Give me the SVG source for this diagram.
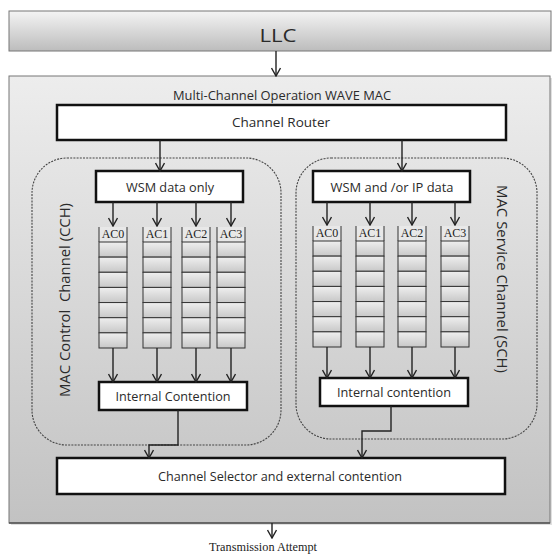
<svg xmlns="http://www.w3.org/2000/svg" width="552" height="556" viewBox="0 0 552 556">
<style>
.sans{font-family:"Open Sans","Liberation Sans",sans-serif;fill:#2a2a2a}
.serif{font-family:"Liberation Serif","Times New Roman",serif;fill:#222}
.wbox{fill:#fff;stroke:#111;stroke-width:2.5}
.dash{fill:none;stroke:#444;stroke-width:1.1;stroke-dasharray:2 1.2}
.conn{fill:none;stroke:#222;stroke-width:1.4;marker-end:url(#arr)}
.cell{fill:url(#cellg);stroke:#333;stroke-width:1}
.side{stroke:#333;stroke-width:1}
</style>
<defs>
<linearGradient id="llcg" x1="0" y1="0" x2="0" y2="1"><stop offset="0" stop-color="#f4f4f4"/><stop offset="1" stop-color="#bcbcbc"/></linearGradient>
<linearGradient id="outg" x1="0" y1="0" x2="0" y2="1"><stop offset="0" stop-color="#ededed"/><stop offset="1" stop-color="#c2c2c2"/></linearGradient>
<linearGradient id="cellg" x1="0" y1="0" x2="0" y2="1"><stop offset="0" stop-color="#efefef"/><stop offset="1" stop-color="#c8c8c8"/></linearGradient>
<marker id="arr" viewBox="-9 -5 10 10" refX="0" refY="0" markerWidth="10" markerHeight="10" markerUnits="userSpaceOnUse" orient="auto">
<path d="M-8,-4.5 L0,0 L-8,4.5" fill="none" stroke="#222" stroke-width="1.4"/>
</marker>
<g id="col">
<rect x="0" y="0" width="28" height="15" fill="#efefef" fill-opacity="0.6"/>
<line class="side" x1="0" y1="0" x2="0" y2="15"/>
<line class="side" x1="28" y1="0" x2="28" y2="15"/>
<rect class="cell" x="0" y="15" width="28" height="15.14"/>
<rect class="cell" x="0" y="30.14" width="28" height="15.14"/>
<rect class="cell" x="0" y="45.28" width="28" height="15.14"/>
<rect class="cell" x="0" y="60.42" width="28" height="15.14"/>
<rect class="cell" x="0" y="75.56" width="28" height="15.14"/>
<rect class="cell" x="0" y="90.7" width="28" height="15.14"/>
<rect class="cell" x="0" y="105.84" width="28" height="15.16"/>
</g>
</defs>

<g id="llc">
<rect x="9" y="11" width="542" height="40" fill="url(#llcg)" stroke="#777" stroke-width="1"/>
<text class="sans" x="278" y="41.5" font-size="19" text-anchor="middle" textLength="37" lengthAdjust="spacingAndGlyphs">LLC</text>
</g>

<g id="wave-mac">
<rect x="11" y="78" width="541" height="447" fill="#000" fill-opacity="0.12"/>
<rect x="9" y="76" width="541" height="447" fill="url(#outg)" stroke="#777" stroke-width="1"/>
<line x1="9" y1="523" x2="550" y2="523" stroke="#555" stroke-width="1.5"/>
<text class="sans" x="282" y="99.5" font-size="12" text-anchor="middle" textLength="218" lengthAdjust="spacingAndGlyphs">Multi-Channel Operation WAVE MAC</text>
</g>

<g id="channel-router">
<rect class="wbox" x="57" y="105" width="449" height="35"/>
<text class="sans" x="281" y="127" font-size="13" text-anchor="middle" textLength="98" lengthAdjust="spacingAndGlyphs">Channel Router</text>
</g>

<g id="cch">
<rect class="dash" x="32" y="158" width="249" height="287" rx="35" ry="35"/>
<text class="sans" transform="translate(70,300) rotate(-90)" font-size="14" text-anchor="middle" textLength="194" lengthAdjust="spacingAndGlyphs" xml:space="preserve">MAC Control  Channel (CCH)</text>
</g>

<g id="sch">
<rect class="dash" x="296" y="158" width="241" height="281" rx="35" ry="35"/>
<text class="sans" transform="translate(497,279) rotate(90)" font-size="14" text-anchor="middle" textLength="188" lengthAdjust="spacingAndGlyphs">MAC Service Channel (SCH)</text>
</g>

<g id="wsm-data-only">
<rect class="wbox" x="96" y="171" width="147" height="31"/>
<text class="sans" x="170" y="191.5" font-size="13" text-anchor="middle" textLength="88" lengthAdjust="spacingAndGlyphs">WSM data only</text>
</g>

<g id="wsm-ip-data">
<rect class="wbox" x="313" y="171" width="157" height="31"/>
<text class="sans" x="392" y="191.5" font-size="13" text-anchor="middle" textLength="123" lengthAdjust="spacingAndGlyphs">WSM and /or IP data</text>
</g>

<g id="cch-ac0"><use href="#col" x="99" y="227"/><text class="serif" x="113" y="238" font-size="12" text-anchor="middle">AC0</text></g>
<g id="cch-ac1"><use href="#col" x="143" y="227"/><text class="serif" x="157" y="238" font-size="12" text-anchor="middle">AC1</text></g>
<g id="cch-ac2"><use href="#col" x="182" y="227"/><text class="serif" x="196" y="238" font-size="12" text-anchor="middle">AC2</text></g>
<g id="cch-ac3"><use href="#col" x="217" y="227"/><text class="serif" x="231" y="238" font-size="12" text-anchor="middle">AC3</text></g>

<g id="sch-ac0"><use href="#col" x="313" y="226"/><text class="serif" x="327" y="237" font-size="12" text-anchor="middle">AC0</text></g>
<g id="sch-ac1"><use href="#col" x="356" y="226"/><text class="serif" x="370" y="237" font-size="12" text-anchor="middle">AC1</text></g>
<g id="sch-ac2"><use href="#col" x="398" y="226"/><text class="serif" x="412" y="237" font-size="12" text-anchor="middle">AC2</text></g>
<g id="sch-ac3"><use href="#col" x="441" y="226"/><text class="serif" x="455" y="237" font-size="12" text-anchor="middle">AC3</text></g>

<g id="cch-internal">
<rect class="wbox" x="99" y="382" width="148" height="28"/>
<text class="sans" x="173" y="400.5" font-size="13" text-anchor="middle" textLength="115" lengthAdjust="spacingAndGlyphs">Internal Contention</text>
</g>

<g id="sch-internal">
<rect class="wbox" x="320" y="378" width="148" height="28"/>
<text class="sans" x="394" y="396.5" font-size="13" text-anchor="middle" textLength="114" lengthAdjust="spacingAndGlyphs">Internal contention</text>
</g>

<g id="channel-selector">
<rect class="wbox" x="57" y="458" width="448" height="36"/>
<text class="sans" x="280" y="480.5" font-size="13" text-anchor="middle" textLength="244" lengthAdjust="spacingAndGlyphs">Channel Selector and external contention</text>
</g>

<g id="transmission">
<text class="serif" x="263" y="551" font-size="12" text-anchor="middle" textLength="108" lengthAdjust="spacingAndGlyphs">Transmission Attempt</text>
</g>

<g id="connectors">
<path class="conn" d="M276,51 V76"/>
<path class="conn" d="M160,140 V171"/>
<path class="conn" d="M402,140 V171"/>
<path class="conn" d="M113,202 V226"/>
<path class="conn" d="M157,202 V226"/>
<path class="conn" d="M196,202 V226"/>
<path class="conn" d="M231,202 V226"/>
<path class="conn" d="M327,202 V225"/>
<path class="conn" d="M370,202 V225"/>
<path class="conn" d="M412,202 V225"/>
<path class="conn" d="M455,202 V225"/>
<path class="conn" d="M113,348 V382"/>
<path class="conn" d="M157,348 V382"/>
<path class="conn" d="M196,348 V382"/>
<path class="conn" d="M231,348 V382"/>
<path class="conn" d="M327,347 V378"/>
<path class="conn" d="M370,347 V378"/>
<path class="conn" d="M412,347 V378"/>
<path class="conn" d="M455,347 V378"/>
<path class="conn" d="M178,410 V445 H149 V458"/>
<path class="conn" d="M391,406 V431 H362 V458"/>
<path class="conn" d="M272,523 V538"/>
</g>
</svg>
